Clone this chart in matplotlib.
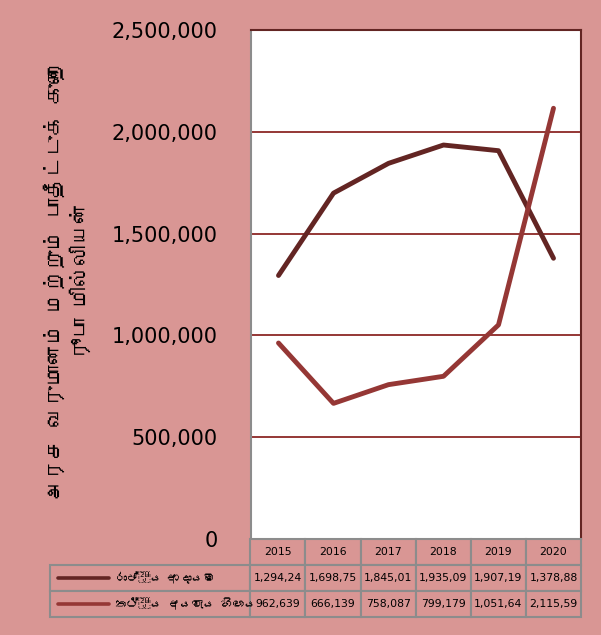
import matplotlib
matplotlib.use("Agg")
import matplotlib.pyplot as plt
from matplotlib import font_manager
from matplotlib.ft2font import FT2Font
from matplotlib.lines import Line2D

years = ["2015", "2016", "2017", "2018", "2019", "2020"]
revenue = [1294240, 1698750, 1845010, 1935090, 1907190, 1378880]
deficit = [962639, 666139, 758087, 799179, 1051640, 2115590]
series_names = ["රාජ්‍ය ආදායම", "තථ්‍ය අයවැය හිඟය"]
ylabel = "அரச வருமானம் மற்றும் பாதீட்டுக் குறை\nரூபா மில்லியன்"
yticks = [0, 500000, 1000000, 1500000, 2000000, 2500000]

bg = "#D99694"
c_rev = "#632523"
c_def = "#953735"
grid_c = "#953735"
edge_c = "#8C8C8C"


def find_font(ch):
    # look for any installed font that has the glyph
    for f in font_manager.fontManager.ttflist:
        try:
            if ord(ch) in FT2Font(f.fname).get_charmap():
                return f.name
        except Exception:
            pass
    return None


tamil = find_font("அ")
sinhala = find_font("ය")
tam_fam = [tamil, "DejaVu Sans"] if tamil else ["DejaVu Sans"]
sin_fam = [sinhala, "DejaVu Sans"] if sinhala else ["DejaVu Sans"]

W, H = 601, 635
fig = plt.figure(figsize=(W / 100, H / 100), dpi=100)
fig.patch.set_facecolor(bg)


def box(x0, y0, x1, y1):
    return [x0 / W, 1 - y1 / H, (x1 - x0) / W, (y1 - y0) / H]


ax = fig.add_axes(box(251, 30, 581, 539))
ax.set_facecolor("white")
x = range(len(years))
ax.plot(x, revenue, color=c_rev, lw=3.5, solid_capstyle="round", solid_joinstyle="round", zorder=3)
ax.plot(x, deficit, color=c_def, lw=3.5, solid_capstyle="round", solid_joinstyle="round", zorder=3)
ax.set_xlim(-0.5, len(years) - 0.5)
ax.set_ylim(0, 2500000)
ax.set_yticks(yticks)
ax.set_yticklabels([f"{v:,}" for v in yticks], fontsize=15)
ax.tick_params(axis="y", length=0, pad=24)
ax.set_xticks([])
for v in yticks[1:-1]:
    ax.axhline(v, color=grid_c, lw=1.4, zorder=1)
ax.spines["top"].set_color(c_rev)
ax.spines["right"].set_color(c_rev)
ax.spines["left"].set_color(edge_c)
ax.spines["bottom"].set_visible(False)
for s in ("top", "right", "left"):
    ax.spines[s].set_linewidth(1.5)

fig.text(67 / W, 1 - 281 / H, ylabel, rotation=90, ha="center", va="center",
         fontsize=15, fontweight="bold", family=tam_fam, multialignment="center",
         linespacing=1.25)

# data table under the chart
tax = fig.add_axes(box(50, 539, 581, 617))
tax.axis("off")
cells = [[""] + years,
         [""] + [f"{v:,}"[:8] for v in revenue],
         [""] + [f"{v:,}"[:8] for v in deficit]]
colw = [200 / 531] + [55 / 531] * len(years)
tbl = tax.table(cellText=cells, colWidths=colw, bbox=[0, 0, 1, 1], cellLoc="center")
tbl.auto_set_font_size(False)
for (r, c), cell in tbl.get_celld().items():
    cell.set_facecolor(bg)
    cell.set_edgecolor(edge_c)
    cell.set_linewidth(1.5)
    cell.get_text().set_fontsize(7.8)
tbl[(0, 0)].visible_edges = ""

row_h = 1 / 3
for i, (name, col) in enumerate(zip(series_names, [c_rev, c_def])):
    yc = 1 - row_h * (i + 1.5)
    tax.add_line(Line2D([8 / 531, 59 / 531], [yc, yc], color=col, lw=2.6,
                        solid_capstyle="round", transform=tax.transAxes))
    tax.text(65 / 531, yc, name, ha="left", va="center", fontsize=8.5,
             family=sin_fam, transform=tax.transAxes)

fig.savefig("out.png", dpi=100, facecolor=bg)
